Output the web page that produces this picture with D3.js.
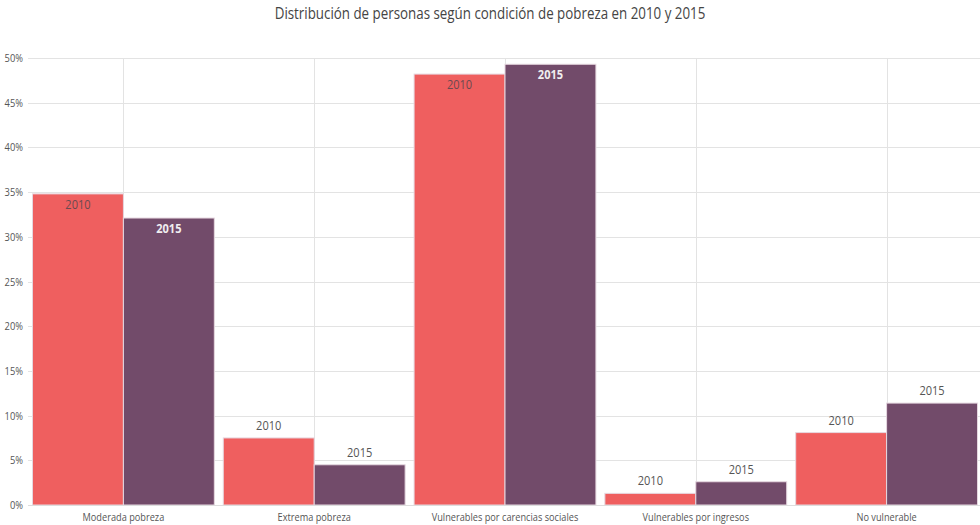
<!DOCTYPE html>
<html><head><meta charset="utf-8">
<script src="https://cdn.jsdelivr.net/npm/d3@7"></script>
<style>
body{margin:0;background:#fff;}
text{font-family:"Open Sans",sans-serif;}
</style></head>
<body><svg id="c" width="980" height="525"></svg>
<script>
const title = "Distribución de personas según condición de pobreza en 2010 y 2015";
const categories = ["Moderada pobreza","Extrema pobreza","Vulnerables por carencias sociales","Vulnerables por ingresos","No vulnerable"];
const series = ["2010","2015"];
const values2010 = [34.8, 7.5, 48.2, 1.3, 8.1];
const values2015 = [32.1, 4.5, 49.3, 2.6, 11.4];
const yTicks = [0,5,10,15,20,25,30,35,40,45,50];
const colors = ["#EF5F5F","#724B6A"];

(function(){
const svg = d3.select("#c");
const pLeft = 28, pRight = 982, pTop = 58, pBottom = 505;
const x = d3.scaleBand().domain(categories).range([pLeft, pRight]).paddingInner(0.047).paddingOuter(0.0235);
const xs = d3.scaleBand().domain(series).range([0, x.bandwidth()]);
const y = d3.scaleLinear().domain([0,50]).range([pBottom, pTop]);

svg.append("text").attr("transform","translate(490,19) scale(0.835,1)").attr("text-anchor","middle")
  .attr("font-size", 16).attr("fill","#444").text(title);

const g = svg.append("g");
g.selectAll("line.h").data(yTicks).join("line").attr("class","h")
  .attr("x1", pLeft).attr("x2", 980).attr("y1", d=>Math.round(y(d))+0.5).attr("y2", d=>Math.round(y(d))+0.5)
  .attr("stroke","#e3e3e3").attr("stroke-width",1);
g.selectAll("line.v").data(categories).join("line").attr("class","v")
  .attr("x1", d=>Math.round(x(d)+x.bandwidth()/2)+0.5).attr("x2", d=>Math.round(x(d)+x.bandwidth()/2)+0.5)
  .attr("y1", pTop).attr("y2", pBottom).attr("stroke","#e3e3e3");

svg.append("g").selectAll("text").data(yTicks).join("text")
  .attr("transform", d=>`translate(23,${y(d)+4}) scale(0.85,1)`).attr("text-anchor","end")
  .attr("font-size", 11).attr("fill","#555").text(d=>d+"%");

const data = [];
categories.forEach((c,i)=>{
  data.push({cat:c, s:"2010", v:values2010[i], k:0});
  data.push({cat:c, s:"2015", v:values2015[i], k:1});
});

svg.append("g").selectAll("rect").data(data).join("rect")
  .attr("x", d=>x(d.cat)+xs(d.s)).attr("width", xs.bandwidth())
  .attr("y", d=>y(d.v)).attr("height", d=>pBottom - y(d.v))
  .attr("fill", d=>colors[d.k]).attr("stroke","#e6d8e0").attr("stroke-width",1);

svg.append("line").attr("x1",pLeft).attr("x2",980).attr("y1",pBottom+0.5).attr("y2",pBottom+0.5).attr("stroke","#ddd");

svg.append("g").selectAll("text").data(data).join("text")
  .attr("transform", d=>`translate(${x(d.cat)+xs(d.s)+xs.bandwidth()/2},${d.v > 20 ? y(d.v)+15 : y(d.v)-8}) scale(0.85,1)`)
  .attr("text-anchor","middle").attr("font-size", 13)
  .attr("font-weight", d=> (d.v>20 && d.k===1) ? "bold" : "normal")
  .attr("fill", d=> d.v>20 ? (d.k===1 ? "#f0eef0" : "#6a4a50") : "#555")
  .text(d=>d.s);

svg.append("g").selectAll("text").data(categories).join("text")
  .attr("transform", d=>`translate(${x(d)+x.bandwidth()/2},521) scale(0.8,1)`).attr("text-anchor","middle")
  .attr("font-size", 11.5).attr("fill","#555").text(d=>d);
})();
</script></body></html>
